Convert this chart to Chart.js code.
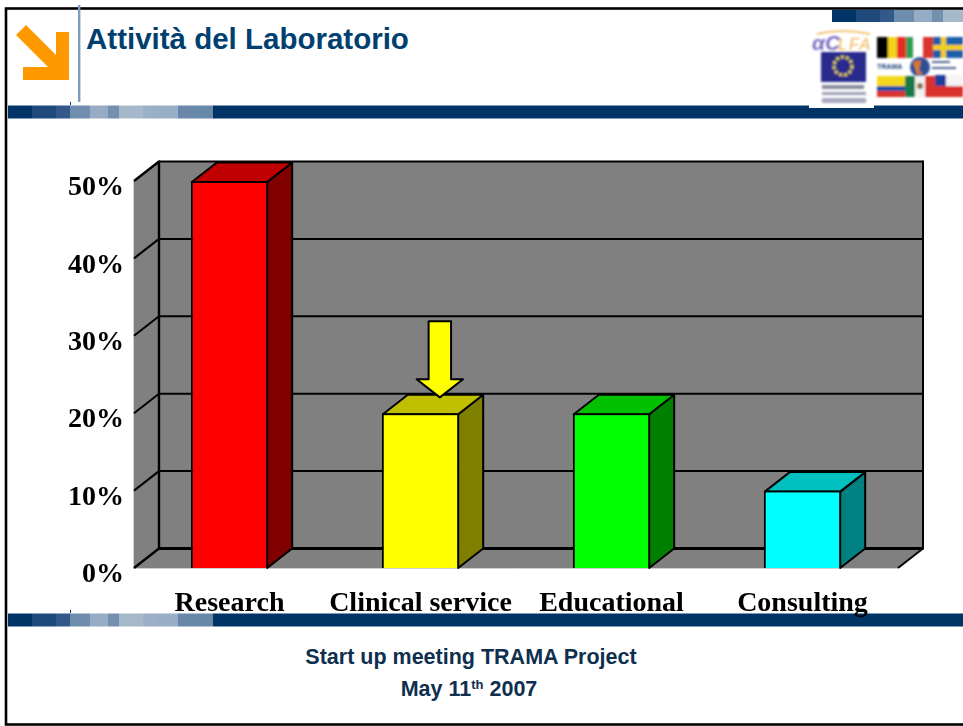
<!DOCTYPE html>
<html lang="it">
<head>
<meta charset="utf-8">
<title>Attività del Laboratorio</title>
<script src="https://cdn.jsdelivr.net/npm/chart.js@4"></script>
<style>
html,body{margin:0;padding:0;background:#fff;overflow:hidden}
#slide{position:relative;width:963px;height:726px;overflow:hidden;background:#fff;font-family:"Liberation Sans",Arial,sans-serif}
.abs{position:absolute}
#chart{position:absolute;left:0;top:0;z-index:3}
#title{left:86px;top:22px;font-weight:bold;font-size:29.5px;line-height:34px;color:#004071;white-space:nowrap}
.foot{left:0;width:942px;text-align:center;font-weight:bold;font-size:21.5px;line-height:24px;color:#0e2f4e;white-space:nowrap}
sup{font-size:13px;line-height:0;vertical-align:7px}
</style>
</head>
<body>
<div id="slide">
  <svg class="abs" style="left:0;top:0;z-index:1" width="963" height="726" id="deco">
    <defs><filter id="b" x="-5%" y="-5%" width="110%" height="110%"><feGaussianBlur stdDeviation="1"/></filter></defs>
    <rect x="6" y="8.5" width="960" height="716" fill="none" stroke="#000" stroke-width="2.6"/>
    <rect x="78" y="5" width="2.4" height="97" fill="#7f9cbd"/>
    <polygon points="16,35 26,25 56,55 56,32 69,32 69,80 23,80 23,67 48,67" fill="#ff9900"/>
    <rect x="70" y="102" width="1" height="3" fill="#003366"/>
    <rect x="70" y="610" width="1" height="3" fill="#003366"/>
    <g id="bandTop"></g>
    <g id="bandBottom"></g>
    <g id="bandCorner"></g>
    <rect x="809" y="28" width="65" height="80" fill="#fff"/>
    <g filter="url(#b)">
      <text x="812" y="50" font-family="Liberation Sans" font-style="italic" font-weight="bold" font-size="21" fill="#7a6fc0">αC</text>
      <text x="838" y="50" font-family="Liberation Sans" font-style="italic" font-size="16" letter-spacing="2" fill="#f2b24a">LFA</text>
      <path d="M817 34 Q842 28 870 34" stroke="#f2b24a" stroke-width="1.4" fill="none"/>
      <rect x="821" y="52" width="45" height="30" fill="#2b2a8c"/>
      <circle cx="843" cy="66" r="9" fill="none" stroke="#e2d040" stroke-width="3" stroke-dasharray="3 2"/>
      <rect x="822" y="85" width="42" height="4" fill="#8a8aa0"/>
      <rect x="822" y="92" width="44" height="3" fill="#a0a0b8"/>
      <rect x="822" y="98" width="44" height="5" fill="#a8a8c0"/>
      <rect x="877" y="37" width="11" height="21" fill="#000"/>
      <rect x="888" y="37" width="9" height="21" fill="#f2d21a"/>
      <rect x="897" y="37" width="9" height="21" fill="#e52b2b"/>
      <rect x="906" y="37" width="7" height="21" fill="#2f9e52"/>
      <rect x="923" y="37" width="10" height="21" fill="#d8342f"/>
      <rect x="933" y="37" width="30" height="21" fill="#1f5fa8"/>
      <rect x="933" y="45" width="30" height="5" fill="#f2cf1d"/>
      <rect x="941" y="37" width="5" height="21" fill="#f2cf1d"/>
      <text x="877" y="69" font-family="Liberation Sans" font-weight="bold" font-size="7" fill="#1f3f7a">TRAMA</text>
      <circle cx="920" cy="67" r="10" fill="#2d4f96"/>
      <path d="M913 62 L921 60 L919 70 L923 75 L917 74 Z" fill="#e07a1e"/>
      <rect x="932" y="61" width="18" height="2" fill="#55658f"/>
      <rect x="932" y="67" width="24" height="2" fill="#55658f"/>
      <rect x="877" y="76" width="28" height="10" fill="#f4d81e"/>
      <rect x="877" y="86" width="28" height="5" fill="#1f4fa8"/>
      <rect x="877" y="91" width="28" height="6" fill="#d9302b"/>
      <rect x="905" y="76" width="10" height="21" fill="#137a46"/>
      <rect x="915" y="76" width="10" height="21" fill="#f2f2f2"/>
      <rect x="925" y="76" width="10" height="21" fill="#d9302b"/>
      <circle cx="920" cy="86" r="3" fill="#8a6a3a"/>
      <rect x="935" y="75" width="28" height="11" fill="#f4f4f4"/>
      <rect x="935" y="75" width="11" height="11" fill="#1f3f9c"/>
      <rect x="935" y="86" width="28" height="11" fill="#d9302b"/>
    </g>
  </svg>
  <div class="abs" id="title" style="z-index:2">Attività del Laboratorio</div>
  <div class="abs foot" style="top:645px;z-index:2">Start up meeting TRAMA Project</div>
  <div class="abs foot" style="top:677px;width:938px;z-index:2">May 11<sup>th</sup> 2007</div>
  <canvas id="chart" width="963" height="726"></canvas>
</div>
<script>
// --- chart data ---
const categories = ["Research", "Clinical service", "Educational", "Consulting"];
const shares = [50, 20, 20, 10];
const frontColors = ["#ff0000", "#ffff00", "#00ff00", "#00ffff"];
const topColors = ["#c00000", "#c0c000", "#00c000", "#00c0c0"];
const sideColors = ["#800000", "#808000", "#008000", "#008080"];
const highlighted = "Clinical service";
const tickStep = 10;
const axisMax = 50;

// --- slide ribbon decoration ---
const ribbon = [[8,32,"#003366"],[32,56,"#1f4a7c"],[56,70,"#33598a"],[70,90,"#6f8dac"],[90,108,"#96abc4"],[108,119,"#7391ae"],[119,143,"#a6b9ca"],[143,158,"#9bafc8"],[158,178,"#98adc6"],[178,213,"#6888a8"],[213,963,"#003366"]];
function paintRibbon(id, y, h, dx, stop){
  const g = document.getElementById(id);
  ribbon.forEach(([a,b,c])=>{
    if (a >= stop) return;
    const r = document.createElementNS("http://www.w3.org/2000/svg","rect");
    r.setAttribute("x", a+dx); r.setAttribute("y", y);
    r.setAttribute("width", Math.min(b,stop)-a); r.setAttribute("height", h);
    r.setAttribute("fill", c); g.appendChild(r);
  });
}
paintRibbon("bandTop",105.5,13,0,963);
paintRibbon("bandBottom",613.5,13,0,963);
paintRibbon("bandCorner",10,12,824,143);

// --- 3D depth of the box, in pixels ---
const depthX = 25, depthY = 19.5;

function poly(ctx, pts, fill, stroke){
  ctx.beginPath();
  pts.forEach((p,i)=> i ? ctx.lineTo(p[0],p[1]) : ctx.moveTo(p[0],p[1]));
  ctx.closePath();
  if (fill){ ctx.fillStyle = fill; ctx.fill(); }
  if (stroke){ ctx.strokeStyle = "#000"; ctx.lineWidth = 2; ctx.lineJoin = "round"; ctx.stroke(); }
}
function seg(ctx, a, b, w){
  ctx.beginPath(); ctx.moveTo(a[0],a[1]); ctx.lineTo(b[0],b[1]);
  ctx.strokeStyle = "#000"; ctx.lineWidth = w; ctx.stroke();
}

const box3d = {
  id: "box3d",
  beforeDatasetsDraw(chart){
    const {ctx, chartArea:{left,right,top,bottom}, scales:{y}} = chart;
    ctx.save();
    // walls and floor
    poly(ctx, [[left,top],[left+depthX,top-depthY],[right+depthX,top-depthY],[right+depthX,bottom-depthY],[right,bottom],[left,bottom]], "#808080");
    // faint picture edge
    ctx.strokeStyle = "#d0d0d0"; ctx.lineWidth = 1;
    ctx.beginPath(); ctx.moveTo(left-0.5,top); ctx.lineTo(left-0.5,bottom+0.5); ctx.lineTo(right,bottom+0.5); ctx.stroke();
    // grid lines on back wall and diagonals on side wall
    y.ticks.forEach(t=>{
      const py = y.getPixelForValue(t.value);
      const w = t.value === 0 ? 3 : 2;
      seg(ctx,[left+depthX,py-depthY],[right+depthX,py-depthY],w);
      seg(ctx,[left,py],[left+depthX,py-depthY],t.value === 0 || t.value === axisMax ? 2.4 : 2);
    });
    seg(ctx,[left+depthX,top-depthY-1],[left+depthX,bottom-depthY+1],2.4);
    seg(ctx,[right+depthX,top-depthY-1],[right+depthX,bottom-depthY+1],2);
    seg(ctx,[right,bottom],[right+depthX,bottom-depthY],2);
    // bar top and side faces
    chart.getDatasetMeta(0).data.forEach((bar,i)=>{
      const l = bar.x-bar.width/2+1, r = bar.x+bar.width/2-1, t = bar.y+1, b = bar.base;
      poly(ctx,[[r,t],[r+depthX,t-depthY],[r+depthX,b-depthY],[r,b]],sideColors[i],true);
      poly(ctx,[[l,t],[l+depthX,t-depthY],[r+depthX,t-depthY],[r,t]],topColors[i],true);
    });
    ctx.restore();
  },
  afterDatasetsDraw(chart){
    // pointer arrow above the highlighted bar
    const {ctx} = chart;
    const idx = categories.indexOf(highlighted);
    const bar = chart.getDatasetMeta(0).data[idx];
    const cx = bar.x + bar.width*0.25;
    const tip = bar.y - bar.width*0.205;
    const shaft = bar.width*0.145, head = bar.width*0.3;
    const neck = tip - bar.width*0.235, tail = tip - bar.width*0.985;
    ctx.save();
    poly(ctx,[[cx-shaft,tail],[cx+shaft,tail],[cx+shaft,neck],[cx+head,neck],[cx,tip],[cx-head,neck],[cx-shaft,neck]],"#ffff00",true);
    ctx.restore();
  }
};

new Chart(document.getElementById("chart"), {
  type: "bar",
  plugins: [box3d],
  data: {
    labels: categories,
    datasets: [{
      data: shares,
      backgroundColor: frontColors,
      borderColor: "#000",
      borderWidth: 2,
      borderSkipped: "bottom",
      categoryPercentage: 0.405,
      barPercentage: 1
    }]
  },
  options: {
    responsive: false,
    animation: false,
    layout: { padding: { top: 181, right: 65, left: 0, bottom: 0 } },
    plugins: { legend: { display: false }, tooltip: { enabled: false } },
    scales: {
      x: {
        grid: { display: false, drawTicks: false },
        border: { display: false },
        afterFit(s){ s.height = 158; },
        ticks: {
          padding: 19, maxRotation: 0, autoSkip: false, color: "#000",
          font: { family: "Liberation Serif", weight: "bold", size: 28 }
        }
      },
      y: {
        min: 0, max: axisMax,
        grid: { display: false, drawTicks: false },
        border: { display: false },
        afterFit(s){ s.width = 134; },
        ticks: {
          stepSize: tickStep, padding: 10, labelOffset: 7, color: "#000",
          font: { family: "Liberation Serif", weight: "bold", size: 28 },
          callback: v => v + "%"
        }
      }
    }
  }
});
</script>
</body>
</html>
